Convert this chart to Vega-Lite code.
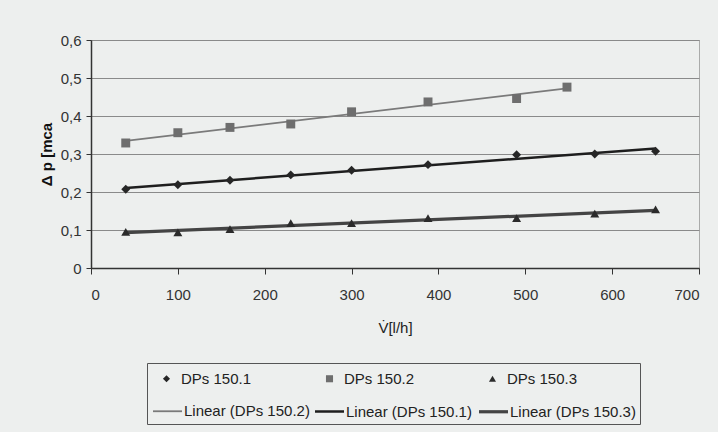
{
  "$schema": "https://vega.github.io/schema/vega-lite/v6.json",
  "width": 608,
  "height": 228,
  "autosize": {"type": "none"},
  "padding": {"left": 91, "top": 40, "right": 19, "bottom": 164},
  "background": "#edefee",
  "config": {
    "font": "Liberation Sans",
    "view": {"stroke": "#666", "strokeDash": [1, 1], "strokeWidth": 1},
    "axis": {"labelFontSize": 15, "labelColor": "#333", "domainColor": "#333", "tickColor": "#333", "gridColor": "#8a8a8a", "gridWidth": 1, "domainWidth": 1.5, "titleFont": "Liberation Sans"},
    "legend": {"labelFont": "Liberation Sans", "labelFontSize": 15, "labelColor": "#222", "labelLimit": 300}
  },
  "data": {
    "values": [
      {"name": "DPs 150.1", "fit": "Linear (DPs 150.1)", "x": 40, "y": 0.207},
      {"name": "DPs 150.1", "fit": "Linear (DPs 150.1)", "x": 100, "y": 0.219},
      {"name": "DPs 150.1", "fit": "Linear (DPs 150.1)", "x": 160, "y": 0.231},
      {"name": "DPs 150.1", "fit": "Linear (DPs 150.1)", "x": 230, "y": 0.245},
      {"name": "DPs 150.1", "fit": "Linear (DPs 150.1)", "x": 300, "y": 0.257},
      {"name": "DPs 150.1", "fit": "Linear (DPs 150.1)", "x": 388, "y": 0.272},
      {"name": "DPs 150.1", "fit": "Linear (DPs 150.1)", "x": 490, "y": 0.298},
      {"name": "DPs 150.1", "fit": "Linear (DPs 150.1)", "x": 580, "y": 0.300},
      {"name": "DPs 150.1", "fit": "Linear (DPs 150.1)", "x": 650, "y": 0.307},
      {"name": "DPs 150.2", "fit": "Linear (DPs 150.2)", "x": 40, "y": 0.329},
      {"name": "DPs 150.2", "fit": "Linear (DPs 150.2)", "x": 100, "y": 0.356},
      {"name": "DPs 150.2", "fit": "Linear (DPs 150.2)", "x": 160, "y": 0.370},
      {"name": "DPs 150.2", "fit": "Linear (DPs 150.2)", "x": 230, "y": 0.379},
      {"name": "DPs 150.2", "fit": "Linear (DPs 150.2)", "x": 300, "y": 0.411},
      {"name": "DPs 150.2", "fit": "Linear (DPs 150.2)", "x": 388, "y": 0.437},
      {"name": "DPs 150.2", "fit": "Linear (DPs 150.2)", "x": 490, "y": 0.446},
      {"name": "DPs 150.2", "fit": "Linear (DPs 150.2)", "x": 548, "y": 0.476},
      {"name": "DPs 150.3", "fit": "Linear (DPs 150.3)", "x": 40, "y": 0.095},
      {"name": "DPs 150.3", "fit": "Linear (DPs 150.3)", "x": 100, "y": 0.094},
      {"name": "DPs 150.3", "fit": "Linear (DPs 150.3)", "x": 160, "y": 0.102},
      {"name": "DPs 150.3", "fit": "Linear (DPs 150.3)", "x": 230, "y": 0.118},
      {"name": "DPs 150.3", "fit": "Linear (DPs 150.3)", "x": 300, "y": 0.118},
      {"name": "DPs 150.3", "fit": "Linear (DPs 150.3)", "x": 388, "y": 0.131},
      {"name": "DPs 150.3", "fit": "Linear (DPs 150.3)", "x": 490, "y": 0.131},
      {"name": "DPs 150.3", "fit": "Linear (DPs 150.3)", "x": 580, "y": 0.143},
      {"name": "DPs 150.3", "fit": "Linear (DPs 150.3)", "x": 650, "y": 0.154}
    ]
  },
  "encoding": {
    "x": {
      "field": "x", "type": "quantitative",
      "scale": {"domain": [0, 700], "nice": false},
      "axis": {"values": [0, 100, 200, 300, 400, 500, 600, 700], "grid": false, "tickSize": 6, "labelPadding": 13, "title": "V̇[l/h]", "titleFontSize": 15, "titleFontWeight": "normal", "titleColor": "#222", "titlePadding": 18}
    },
    "y": {
      "field": "y", "type": "quantitative",
      "scale": {"domain": [0, 0.6], "nice": false},
      "axis": {"values": [0, 0.1, 0.2, 0.3, 0.4, 0.5, 0.6], "tickSize": 5, "labelPadding": 5, "labelExpr": "datum.value == 0 ? '0' : replace(format(datum.value, '.1f'), '.', ',')", "title": "Δ p [mca", "titleFontSize": 15, "titleFontWeight": "bold", "titleColor": "#111", "titlePadding": 6}
    }
  },
  "layer": [
    {
      "transform": [{"regression": "y", "on": "x", "groupby": ["fit"], "method": "linear"}],
      "mark": {"type": "line"},
      "encoding": {
        "stroke": {
          "field": "fit", "type": "nominal",
          "scale": {"domain": ["Linear (DPs 150.2)", "Linear (DPs 150.1)", "Linear (DPs 150.3)"], "range": ["#7a7a7a", "#1e1e1e", "#444444"]},
          "legend": {"title": " ", "titleFontSize": 15, "titlePadding": 13, "orient": "none", "legendX": 56, "legendY": 323, "direction": "horizontal", "columns": 3, "columnPadding": 0, "padding": 4, "strokeColor": "#555", "symbolSize": 841, "labelOffset": 0}
        },
        "strokeWidth": {
          "field": "fit", "type": "ordinal",
          "scale": {"domain": ["Linear (DPs 150.2)", "Linear (DPs 150.1)", "Linear (DPs 150.3)"], "range": [1.8, 3.2, 1.8]},
          "legend": {"title": " ", "titleFontSize": 15, "titlePadding": 13, "orient": "none", "legendX": 56, "legendY": 323, "direction": "horizontal", "columns": 3, "columnPadding": 0, "padding": 4, "strokeColor": "#555", "symbolSize": 841, "labelOffset": 0}
        }
      }
    },
    {
      "mark": {"type": "point", "filled": true, "opacity": 1, "size": 80},
      "encoding": {
        "fill": {
          "field": "name", "type": "nominal",
          "scale": {"domain": ["DPs 150.1", "DPs 150.2", "DPs 150.3"], "range": ["#262626", "#6e6e6e", "#2b2b2b"]},
          "legend": {"title": null, "orient": "none", "legendX": 68, "legendY": 331, "direction": "horizontal", "columns": 3, "columnPadding": 70, "padding": 0, "symbolSize": 50, "labelOffset": 7}
        },
        "shape": {
          "field": "name", "type": "nominal",
          "scale": {"domain": ["DPs 150.1", "DPs 150.2", "DPs 150.3"], "range": ["diamond", "square", "triangle-up"]},
          "legend": {"title": null, "orient": "none", "legendX": 68, "legendY": 331, "direction": "horizontal", "columns": 3, "columnPadding": 70, "padding": 0, "symbolSize": 50, "labelOffset": 7}
        }
      }
    }
  ]
}
